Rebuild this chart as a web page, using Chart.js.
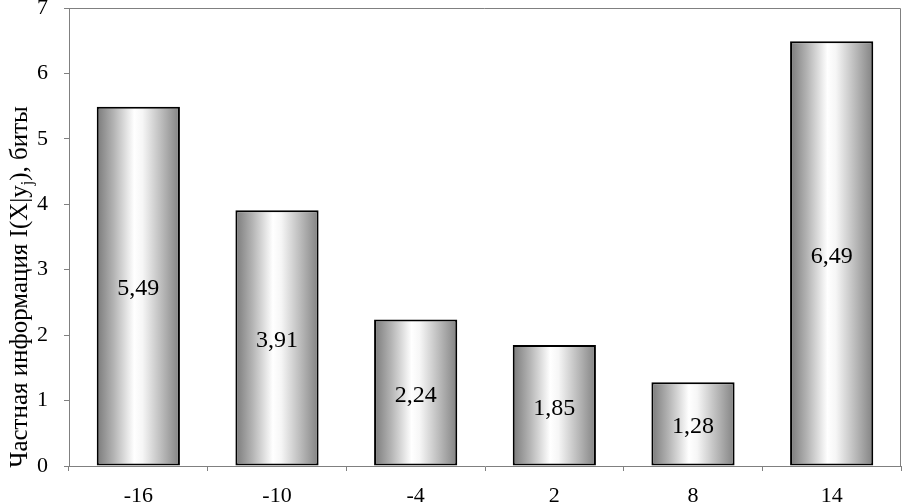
<!DOCTYPE html>
<html>
<head>
<meta charset="utf-8">
<script src="https://cdn.jsdelivr.net/npm/chart.js@4/dist/chart.umd.min.js"></script>
<style>
html,body{margin:0;padding:0;background:#fff;}
#c{display:block;}
</style>
</head>
<body>
<canvas id="c" width="902" height="502"></canvas>
<script>
// data
const categories=['-16','-10','-4','2','8','14'];
const values=[5.49,3.91,2.24,1.85,1.28,6.49];
const valueLabels=['5,49','3,91','2,24','1,85','1,28','6,49'];
const yTitleParts=['Частная информация I(X|y','j','), биты'];

const serif='"Liberation Serif","Times New Roman",serif';
const frameColor='#808080';

function barFill(ctx){
const ch=ctx.chart, xs=ch.scales.x;
if(!ch.chartArea||!xs) return '#c0c0c0';
const cx=xs.getPixelForValue(ctx.dataIndex);
const w=(xs.width/categories.length)*0.6;
const g=ch.ctx.createLinearGradient(cx-w/2,0,cx+w/2,0);
g.addColorStop(0,'#7a7a7a');
g.addColorStop(0.2,'#b2b2b2');
g.addColorStop(0.45,'#ffffff');
g.addColorStop(0.55,'#f6f6f6');
g.addColorStop(0.8,'#b6b6b6');
g.addColorStop(1,'#828282');
return g;
}

// grey frame round the plot area (top and right sides)
const framePlugin={id:'frame',beforeDatasetsDraw(ch){
const a=ch.chartArea,c=ch.ctx;
c.save();c.strokeStyle=frameColor;c.lineWidth=1;
c.beginPath();
c.moveTo(a.left,a.top+0.5);c.lineTo(a.right-0.5,a.top+0.5);c.lineTo(a.right-0.5,a.bottom);
c.stroke();c.restore();
}};

// value written in the middle of each bar
const labelPlugin={id:'vlabels',afterDatasetsDraw(ch){
const c=ch.ctx,meta=ch.getDatasetMeta(0);
c.save();c.font='24px '+serif;c.fillStyle='#000';c.textAlign='center';c.textBaseline='middle';
meta.data.forEach((el,i)=>{c.fillText(valueLabels[i],el.x,(el.y+el.base)/2+3);});
c.restore();
}};

// rotated y title with subscript j
const titlePlugin={id:'ytitle',afterDraw(ch){
const c=ch.ctx;
const big='25px '+serif,small='16px '+serif;
c.save();
c.translate(27,287);
c.rotate(-Math.PI/2);
c.fillStyle='#000';c.textBaseline='alphabetic';c.textAlign='left';
c.font=big;const w0=c.measureText(yTitleParts[0]).width;
c.font=small;const w1=c.measureText(yTitleParts[1]).width;
c.font=big;const w2=c.measureText(yTitleParts[2]).width;
let x=-(w0+w1+w2)/2;
c.font=big;c.fillText(yTitleParts[0],x,0);x+=w0;
c.font=small;c.fillText(yTitleParts[1],x,5);x+=w1;
c.font=big;c.fillText(yTitleParts[2],x,0);
c.restore();
}};

new Chart(document.getElementById('c'),{
type:'bar',
data:{labels:categories,datasets:[{data:values,backgroundColor:barFill,borderColor:'#000',borderWidth:2,borderSkipped:false,categoryPercentage:1,barPercentage:0.6}]},
options:{
responsive:false,animation:false,
layout:{padding:{left:29,right:1,top:8,bottom:0}},
plugins:{legend:{display:false},tooltip:{enabled:false}},
scales:{
x:{
grid:{display:true,offset:true,drawOnChartArea:false,drawTicks:true,tickLength:5,color:frameColor},
border:{display:true,color:frameColor,width:1},
ticks:{color:'#000',font:{family:serif,size:22},padding:12},
afterFit:s=>{s.height=36;}
},
y:{
min:0,max:7,
grid:{display:true,drawOnChartArea:false,drawTicks:true,tickLength:5,color:frameColor},
border:{display:true,color:frameColor,width:1},
ticks:{stepSize:1,color:'#000',font:{family:serif,size:22},padding:16},
afterFit:s=>{s.width=40;s.paddingTop=0;s.paddingBottom=0;}
}
}
},
plugins:[framePlugin,labelPlugin,titlePlugin]
});
</script>
</body>
</html>
